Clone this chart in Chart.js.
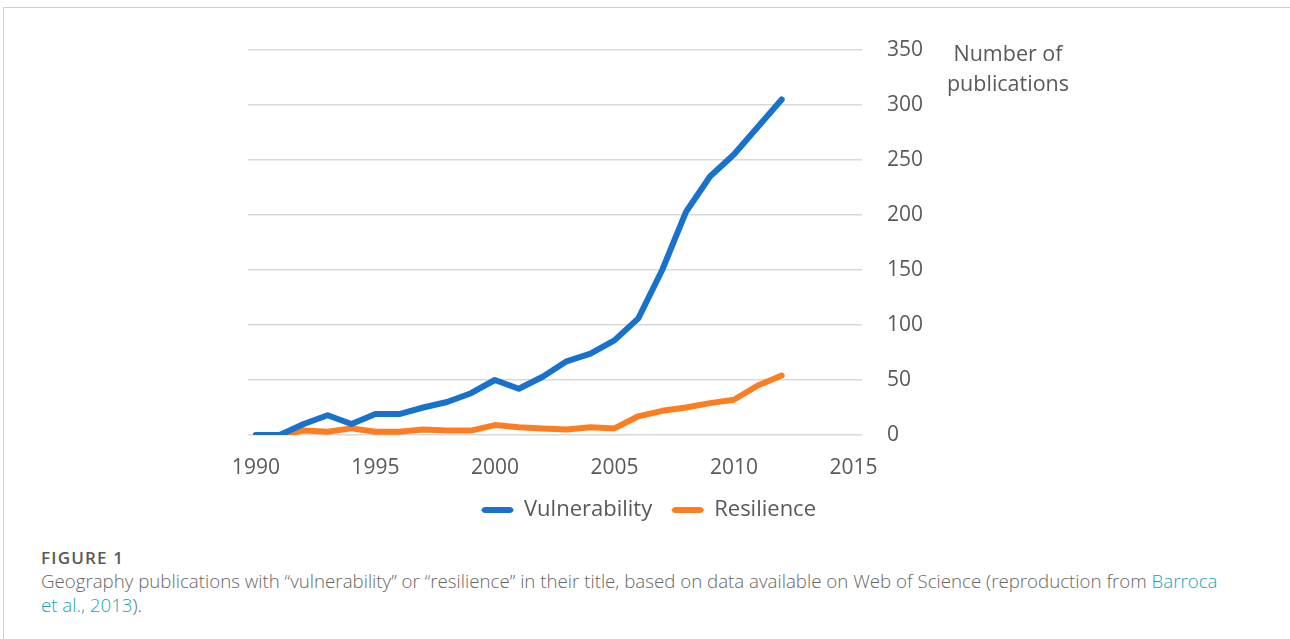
<!DOCTYPE html>
<html>
<head>
<meta charset="utf-8">
<title>Figure 1</title>
<script src="https://cdn.jsdelivr.net/npm/chart.js@4.4.0/dist/chart.umd.min.js"></script>
<style>
    body { margin: 0; background: #fff; font-family: "Open Sans", sans-serif; }
    #page { position: relative; width: 1290px; height: 639px; overflow: hidden; }
    #frame { position: absolute; left: 3px; top: 7px; right: -2px; bottom: -2px;
             border-top: 1px solid #cdcdcd; border-left: 1px solid #d4d4d4; }
    #chart-box { position: absolute; left: 200px; top: 0; width: 850px; height: 531px; }
    #y-title { position: absolute; left: 930px; top: 38px; width: 156px; text-align: center;
               font-size: 21.5px; line-height: 30px; color: #595959; }
    #fig-label { position: absolute; left: 41px; top: 546px; font-size: 17px; font-weight: 600;
                 color: #595959; letter-spacing: 1.2px; }
    #caption { position: absolute; left: 41px; top: 569px; width: 1240px; font-size: 18.7px;
               line-height: 24px; color: #666; font-weight: 300; }
    #caption a { color: #1aa3b8; text-decoration: none; }
</style>
</head>
<body>
<div id="page">
    <div id="frame"></div>
    <div id="chart-box"><canvas id="pubChart"></canvas></div>
    <div id="y-title">Number of<br>publications</div>
    <div id="fig-label">FIGURE 1</div>
    <div id="caption">Geography publications with “vulnerability” or “resilience” in their title, based on data available on Web of Science (reproduction from <a href="#">Barroca</a><br><a href="#">et al., 2013</a>).</div>
</div>

<script>
// Data
const years = [1990, 1991, 1992, 1993, 1994, 1995, 1996, 1997, 1998, 1999, 2000, 2001,
               2002, 2003, 2004, 2005, 2006, 2007, 2008, 2009, 2010, 2011, 2012];
const vulnerability = [0, 0, 10, 18, 10, 19, 19, 25, 30, 38, 50, 42,
                       53, 67, 74, 86, 106, 150, 203, 235, 255, 280, 305];
const resilience = [0, 0, 4, 3, 6, 3, 3, 5, 4, 4, 9, 7,
                    6, 5, 7, 6, 17, 22, 25, 29, 32, 45, 54];
const xTicks = [1990, 1995, 2000, 2005, 2010, 2015];
const yTicks = [0, 50, 100, 150, 200, 250, 300, 350];

const TEXT_COLOR = '#595959';

function toPoints(values) {
    return years.map((yr, i) => ({ x: yr, y: values[i] }));
}

function lineDataset(label, values, color) {
    return {
        label: label,
        data: toPoints(values),
        borderColor: color,
        backgroundColor: color,
        borderWidth: 6,
        pointRadius: 0,
        borderCapStyle: 'round',
        borderJoinStyle: 'round',
        fill: false
    };
}

function createChart() {
    const ctx = document.getElementById('pubChart').getContext('2d');
    new Chart(ctx, {
        type: 'line',
        data: {
            datasets: [
                lineDataset('Vulnerability', vulnerability, '#1872cc'),
                lineDataset('Resilience', resilience, '#fd7e22')
            ]
        },
        options: {
            responsive: true,
            maintainAspectRatio: false,
            animation: false,
            layout: { padding: { left: 48, top: 50, right: 0, bottom: 0 } },
            plugins: {
                tooltip: { enabled: false },
                legend: {
                    position: 'bottom',
                    labels: {
                        boxWidth: 31,
                        boxHeight: 5,
                        padding: 20,
                        color: TEXT_COLOR,
                        font: { family: 'Open Sans', size: 22 },
                        useBorderRadius: true,
                        borderRadius: 3,
                        generateLabels(chart) {
                            const items = Chart.defaults.plugins.legend.labels.generateLabels(chart);
                            items.forEach(it => { it.lineWidth = 1; it.fillStyle = it.strokeStyle; });
                            return items;
                        }
                    }
                }
            },
            scales: {
                x: {
                    type: 'linear',
                    min: 1989.67,
                    max: 2015.36,
                    afterBuildTicks: scale => { scale.ticks = xTicks.map(v => ({ value: v })); },
                    afterFit: scale => { scale.height = 44; },
                    grid: { display: false, drawTicks: false },
                    border: { display: false },
                    ticks: {
                        padding: 20,
                        maxRotation: 0,
                        color: TEXT_COLOR,
                        font: { family: 'Open Sans', size: 21 },
                        callback: v => String(v)
                    }
                },
                y: {
                    position: 'right',
                    min: 0,
                    max: 350,
                    afterBuildTicks: scale => { scale.ticks = yTicks.map(v => ({ value: v })); },
                    afterFit: scale => { scale.width = 188; },
                    grid: { color: '#d9d9d9', lineWidth: 1.5, drawTicks: false },
                    border: { display: false },
                    ticks: {
                        padding: 25,
                        color: TEXT_COLOR,
                        font: { family: 'Open Sans', size: 21 }
                    }
                }
            }
        }
    });
}

document.addEventListener('DOMContentLoaded', createChart);
</script>
</body>
</html>
